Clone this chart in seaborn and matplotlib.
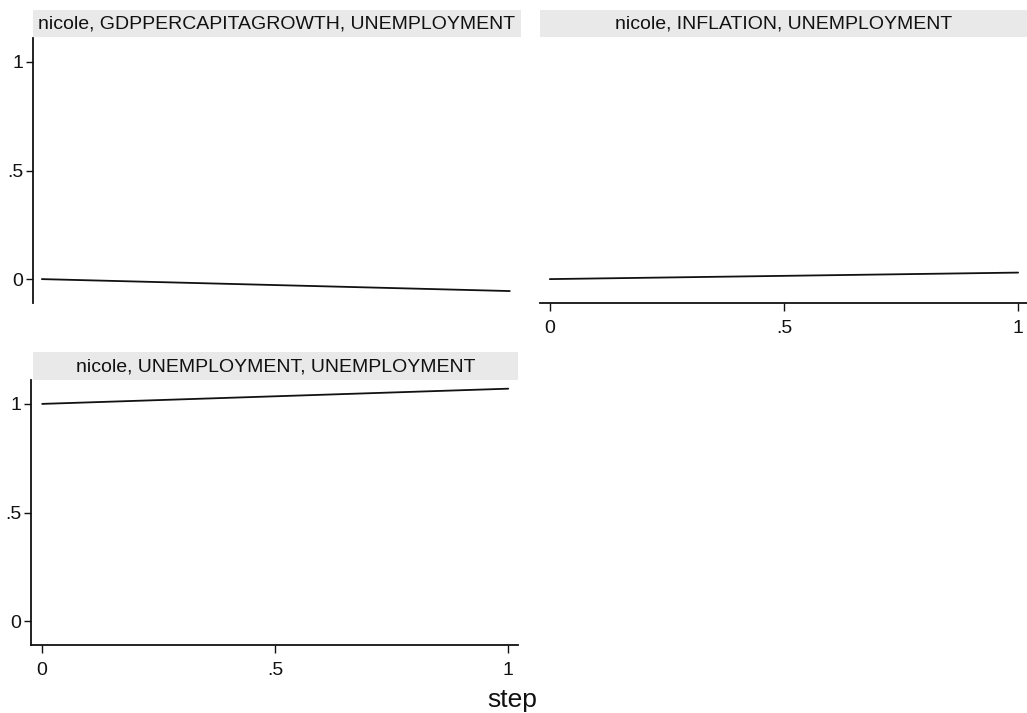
import matplotlib
matplotlib.use("Agg")
import matplotlib.pyplot as plt
from matplotlib.patches import Rectangle
import pandas as pd
import seaborn as sns

# Impulse-response values over steps 0..1
steps = [0, 1]
gdp_to_unemp = [0.0, -0.055]
infl_to_unemp = [0.0, 0.03]
unemp_to_unemp = [1.0, 1.07]

panel_titles = [
    "nicole, GDPPERCAPITAGROWTH, UNEMPLOYMENT",
    "nicole, INFLATION, UNEMPLOYMENT",
    "nicole, UNEMPLOYMENT, UNEMPLOYMENT",
]
y_ticks = [0, 0.5, 1]
y_tick_labels = ["0", ".5", "1"]
x_ticks = [0, 0.5, 1]
x_tick_labels = ["0", ".5", "1"]
x_title = "step"

sns.set_style("white")
plt.rcParams["font.family"] = ["Liberation Sans", "DejaVu Sans"]

W, H = 1027, 713
fig = plt.figure(figsize=(W / 100, H / 100), dpi=100)
fig.patch.set_facecolor("white")


def px_axes(x0, x1, y0, y1):
    return fig.add_axes([x0 / W, 1 - y1 / H, (x1 - x0) / W, (y1 - y0) / H])


def strip(x0, x1, y0, y1, text):
    fig.patches.append(Rectangle((x0 / W, 1 - y1 / H), (x1 - x0) / W, (y1 - y0) / H,
                                 transform=fig.transFigure, facecolor="#e9e9e9",
                                 edgecolor="none", zorder=0))
    fig.text((x0 + x1) / 2 / W, 1 - (y0 + y1 + 1) / 2 / H, text, ha="center",
             va="center", fontsize=14, color="#111111")


def style(ax, show_y, show_x):
    ax.set_facecolor("none")
    for s in ax.spines.values():
        s.set_visible(False)
    ax.set_ylim(-0.11, 1.11)
    ax.set_xlabel("")
    ax.set_ylabel("")
    if show_y:
        ax.spines["left"].set_visible(True)
        ax.spines["left"].set_linewidth(1.3)
        ax.spines["left"].set_color("#111111")
        ax.set_yticks(y_ticks)
        ax.set_yticklabels(y_tick_labels)
        ax.tick_params(axis="y", left=True, length=5, width=1, direction="out",
                       labelsize=14, pad=2, colors="#111111")
    else:
        ax.set_yticks([])
    if show_x:
        ax.spines["bottom"].set_visible(True)
        ax.spines["bottom"].set_linewidth(1.3)
        ax.spines["bottom"].set_color("#111111")
        ax.set_xticks(x_ticks)
        ax.set_xticklabels(x_tick_labels)
        ax.tick_params(axis="x", bottom=True, length=6, width=1, direction="out",
                       labelsize=14, pad=6, colors="#111111")
    else:
        ax.set_xticks([])


panels = [
    (gdp_to_unemp, (33, 521, 38, 303), (33, 521, 10, 37), True, False, (-0.019, 1.024)),
    (infl_to_unemp, (540, 1027, 38, 303), (540, 1027, 10, 37), False, True, (-0.021, 1.019)),
    (unemp_to_unemp, (31, 518, 380, 645), (33, 518, 352, 380), True, True, (-0.024, 1.021)),
]

for (vals, box, sbox, sy, sx, xlim), title in zip(panels, panel_titles):
    strip(*sbox, title)
    ax = px_axes(*box)
    df = pd.DataFrame({"step": steps, "irf": vals})
    sns.lineplot(data=df, x="step", y="irf", ax=ax, color="#111111", linewidth=1.3)
    ax.set_xlim(*xlim)
    style(ax, sy, sx)

fig.text(512 / W, 1 - 700 / H, x_title, ha="center", va="center", fontsize=19,
         color="#111111")

fig.savefig("out.png", dpi=100, facecolor="white")
